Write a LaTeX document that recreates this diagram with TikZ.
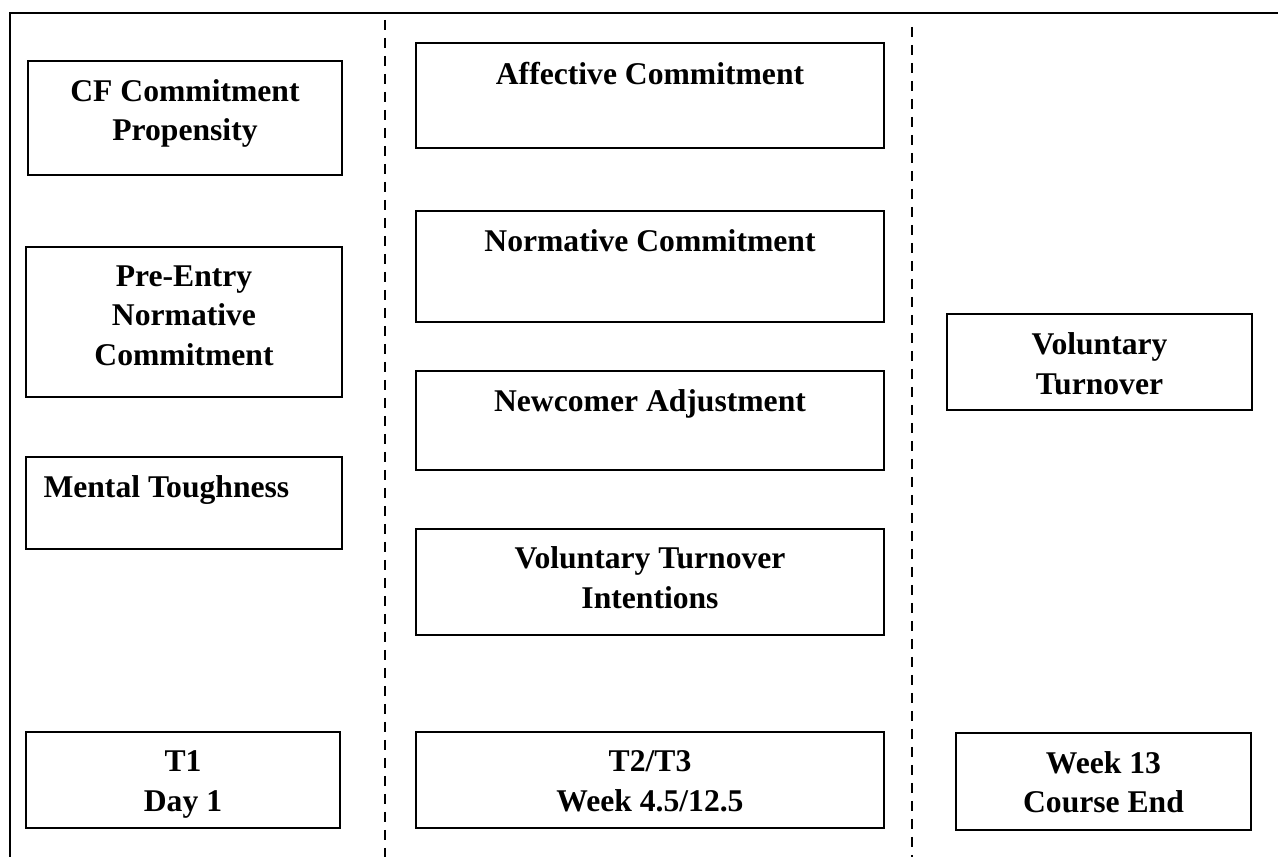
\documentclass[tikz,border=0pt]{standalone}
\usepackage{fontspec}
\setmainfont{Liberation Serif}
\usetikzlibrary{positioning}

\begin{document}
\begin{tikzpicture}[x=0.02cm,y=-0.02cm,
  font=\bfseries\fontsize{18}{22.5}\selectfont,
  box/.style={draw,line width=1pt,inner sep=0pt},
  txt/.style={inner sep=0pt,align=center,anchor=north},
  sep/.style={line width=1.4pt,dash pattern=on 0.2cm off 0.16cm}]
  \useasboundingbox (0,0) rectangle (1278,857);
  % frame
  \coordinate (fb) at (10,857);
  \coordinate (ft) at (10,13);
  \coordinate (fr) at (1278,13);
  \draw[line width=1.5pt] (fb) -- (ft) -- (fr);
  % time separators
  \coordinate (s1t) at (385,20);
  \coordinate (s1b) at (385,857);
  \coordinate (s2t) at (912,27);
  \coordinate (s2b) at (912,857);
  \draw[sep] (s1t) -- (s1b);
  \draw[sep] (s2t) -- (s2b);
  % T1 column
  \node[box,minimum width=6.28cm,minimum height=2.28cm] (cf) at (185,118) {};
  \node[txt,below=0.38cm of cf.north] (cft) {CF Commitment\\Propensity};
  \node[box,minimum width=6.32cm,minimum height=3.0cm] (pe) at (184,322) {};
  \node[txt,below=0.38cm of pe.north] (pet) {Pre-Entry\\Normative\\Commitment};
  \node[box,minimum width=6.32cm,minimum height=1.84cm] (mt) at (184,503) {};
  \node[txt,anchor=north west,below right=0.39cm and 0.36cm of mt.north west] (mtt) {Mental Toughness};
  % T2/T3 column
  \node[box,minimum width=9.36cm,minimum height=2.1cm] (ac) at (650,95.5) {};
  \node[txt,below=0.39cm of ac.north] (act) {Affective Commitment};
  \node[box,minimum width=9.36cm,minimum height=2.22cm] (nc) at (650,266.5) {};
  \node[txt,below=0.38cm of nc.north] (nct) {Normative Commitment};
  \node[box,minimum width=9.36cm,minimum height=1.98cm] (na) at (650,420.5) {};
  \node[txt,below=0.38cm of na.north] (nat) {Newcomer Adjustment};
  \node[box,minimum width=9.36cm,minimum height=2.12cm] (vti) at (650,582) {};
  \node[txt,below=0.37cm of vti.north] (vtit) {Voluntary Turnover\\Intentions};
  % course end column
  \node[box,minimum width=6.1cm,minimum height=1.92cm] (vt) at (1099.5,362) {};
  \node[txt,below=0.39cm of vt.north] (vtt) {Voluntary\\Turnover};
  % time points
  \node[box,minimum width=6.28cm,minimum height=1.92cm] (t1) at (183,780) {};
  \node[txt,below=0.39cm of t1.north] (t1t) {T1\\Day 1};
  \node[box,minimum width=9.36cm,minimum height=1.92cm] (t23) at (650,780) {};
  \node[txt,below=0.39cm of t23.north] (t23t) {T2/T3\\Week 4.5/12.5};
  \node[box,minimum width=5.9cm,minimum height=1.94cm] (w13) at (1103.5,781.5) {};
  \node[txt,below=0.38cm of w13.north] (w13t) {Week 13\\Course End};
\end{tikzpicture}
\end{document}
